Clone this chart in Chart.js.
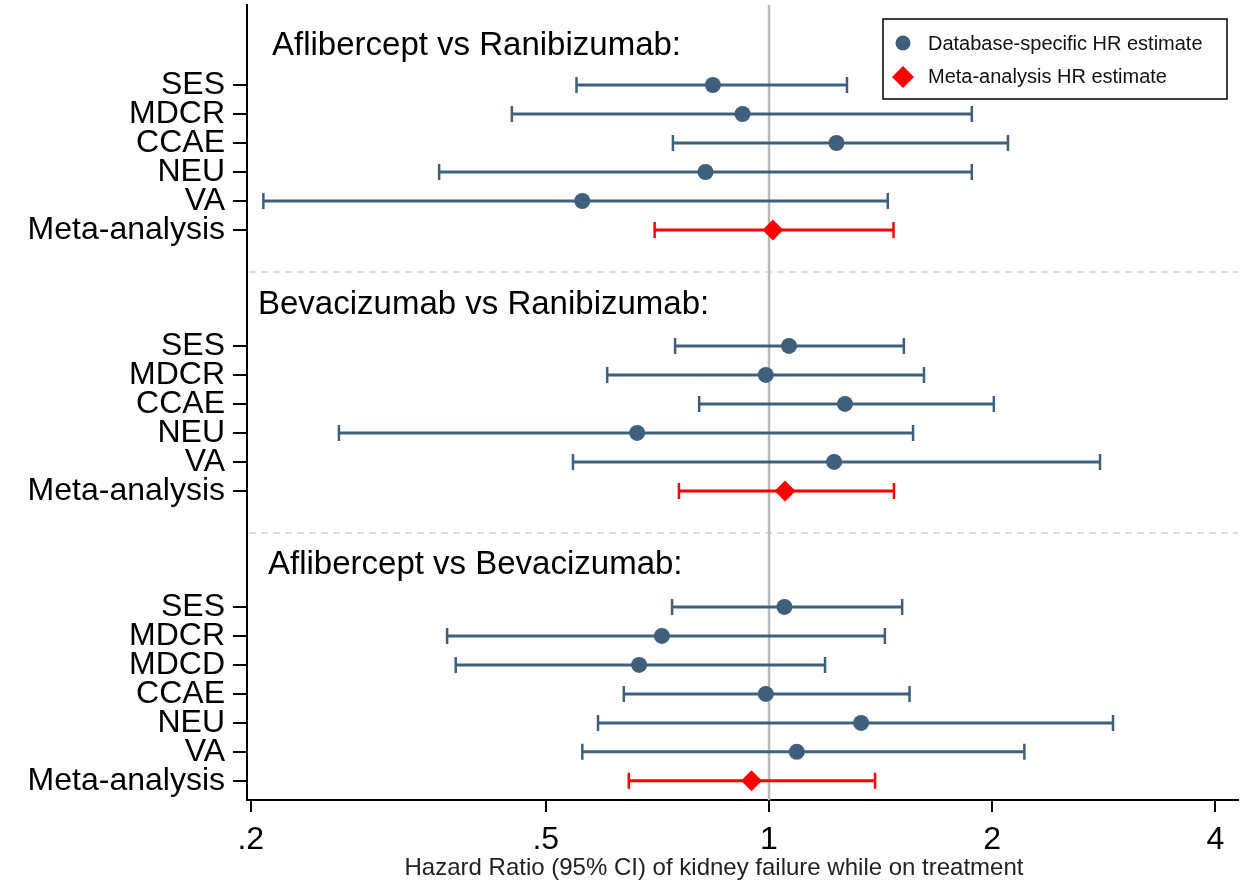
<!DOCTYPE html>
<html>
<head>
<meta charset="utf-8">
<script src="https://cdn.jsdelivr.net/npm/chart.js@4.4.1/dist/chart.umd.min.js"></script>
<style>
  html, body { margin: 0; padding: 0; background: #fff; }
  #wrap { width: 1248px; height: 883px; }
</style>
</head>
<body>
<div id="wrap"><canvas id="myChart" width="1248" height="883"></canvas></div>
<script>
// comparison headers and where they sit on the row axis
var groupTitles = ["Aflibercept vs Ranibizumab:", "Bevacizumab vs Ranibizumab:", "Aflibercept vs Bevacizumab:"];
var groupTitlePos = [-1.35, 7.6, 16.55];
var separatorPos = [6.45, 15.45];

// one entry per row of the forest plot
var rowLabels = ["SES", "MDCR", "CCAE", "NEU", "VA", "Meta-analysis",
  "SES", "MDCR", "CCAE", "NEU", "VA", "Meta-analysis",
  "SES", "MDCR", "MDCD", "CCAE", "NEU", "VA", "Meta-analysis"];
var rowPos = [0, 1, 2, 3, 4, 5, 9, 10, 11, 12, 13, 14, 18, 19, 20, 21, 22, 23, 24];
var hr = [0.840, 0.921, 1.233, 0.821, 0.560, 1.012,
  1.064, 0.990, 1.266, 0.664, 1.224, 1.051,
  1.049, 0.717, 0.668, 0.990, 1.331, 1.090, 0.947];
var lower = [0.550, 0.450, 0.742, 0.359, 0.208, 0.701,
  0.747, 0.605, 0.805, 0.263, 0.544, 0.756,
  0.740, 0.368, 0.378, 0.637, 0.588, 0.560, 0.647];
var upper = [1.274, 1.877, 2.10, 1.877, 1.446, 1.472,
  1.520, 1.618, 2.01, 1.564, 2.795, 1.474,
  1.512, 1.433, 1.190, 1.547, 2.91, 2.21, 1.390];

var xTicks = [0.2, 0.5, 1, 2, 4];
var xTickLabels = [".2", ".5", "1", "2", "4"];
var xTitle = "Hazard Ratio (95% CI) of kidney failure while on treatment";

var BLUE = "#3f607d";
var RED = "#ff0000";
var FONT = "'Liberation Sans', Arial, sans-serif";
var headerIndent = [25, 11, 21];

var dbPoints = [], metaPoints = [];
for (let i = 0; i < rowLabels.length; i++) {
  if (rowLabels[i] === "Meta-analysis") metaPoints.push({ x: hr[i], y: rowPos[i] });
  else dbPoints.push({ x: hr[i], y: rowPos[i] });
}

var forestPlugin = {
  id: "forest",
  beforeDatasetsDraw: function (chart) {
    var ctx = chart.ctx, area = chart.chartArea;
    var xs = chart.scales.x, ys = chart.scales.y;
    ctx.save();
    // dashed separators between comparisons
    ctx.strokeStyle = "#dcdcdc";
    ctx.lineWidth = 2;
    ctx.setLineDash([7, 5]);
    separatorPos.forEach(function (p) {
      var py = ys.getPixelForValue(p);
      ctx.beginPath();
      ctx.moveTo(area.left + 2, py);
      ctx.lineTo(area.right, py);
      ctx.stroke();
    });
    ctx.setLineDash([]);
    // reference line at HR = 1
    var x1 = xs.getPixelForValue(1);
    ctx.strokeStyle = "#bababa";
    ctx.lineWidth = 2.5;
    ctx.beginPath();
    ctx.moveTo(x1, area.top);
    ctx.lineTo(x1, area.bottom);
    ctx.stroke();
    // confidence intervals
    for (let i = 0; i < rowLabels.length; i++) {
      var col = rowLabels[i] === "Meta-analysis" ? RED : BLUE;
      var py = ys.getPixelForValue(rowPos[i]);
      var xl = xs.getPixelForValue(lower[i]);
      var xu = xs.getPixelForValue(upper[i]);
      ctx.strokeStyle = col;
      ctx.lineWidth = 3;
      ctx.beginPath();
      ctx.moveTo(xl, py);
      ctx.lineTo(xu, py);
      ctx.stroke();
      ctx.lineWidth = 2.5;
      ctx.beginPath();
      ctx.moveTo(xl, py - 8);
      ctx.lineTo(xl, py + 8);
      ctx.moveTo(xu, py - 8);
      ctx.lineTo(xu, py + 8);
      ctx.stroke();
    }
    // group headers
    ctx.fillStyle = "#000";
    ctx.font = "33px " + FONT;
    ctx.textAlign = "left";
    ctx.textBaseline = "middle";
    groupTitles.forEach(function (t, k) {
      ctx.fillText(t, area.left + headerIndent[k], ys.getPixelForValue(groupTitlePos[k]));
    });
    ctx.restore();
  },
  afterDraw: function (chart) {
    var ctx = chart.ctx, area = chart.chartArea;
    ctx.save();
    // x axis title
    ctx.fillStyle = "#222";
    ctx.font = "24px " + FONT;
    ctx.textAlign = "center";
    ctx.textBaseline = "middle";
    ctx.fillText(xTitle, area.left + 467, chart.height - 15);
    // legend box
    var w = 344, h = 80;
    var bx = area.right - 11 - w, by = area.top + 14;
    ctx.textAlign = "left";
    ctx.fillStyle = "#fff";
    ctx.fillRect(bx, by, w, h);
    ctx.strokeStyle = "#000";
    ctx.lineWidth = 1.5;
    ctx.strokeRect(bx, by, w, h);
    ctx.fillStyle = BLUE;
    ctx.beginPath();
    ctx.arc(bx + 20, by + 24, 7.5, 0, Math.PI * 2);
    ctx.fill();
    ctx.fillStyle = RED;
    ctx.beginPath();
    ctx.moveTo(bx + 20, by + 47);
    ctx.lineTo(bx + 31, by + 58);
    ctx.lineTo(bx + 20, by + 69);
    ctx.lineTo(bx + 9, by + 58);
    ctx.closePath();
    ctx.fill();
    ctx.fillStyle = "#111";
    ctx.font = "20px " + FONT;
    ctx.fillText("Database-specific HR estimate", bx + 45, by + 25);
    ctx.fillText("Meta-analysis HR estimate", bx + 45, by + 58);
    ctx.restore();
  }
};

var ctx = document.getElementById("myChart").getContext("2d");
var chart = new Chart(ctx, {
  type: "scatter",
  data: {
    datasets: [
      {
        label: "Database-specific HR estimate",
        data: dbPoints,
        backgroundColor: BLUE,
        borderColor: BLUE,
        pointStyle: "circle",
        pointRadius: 8,
        borderWidth: 0,
      },
      {
        label: "Meta-analysis HR estimate",
        data: metaPoints,
        backgroundColor: RED,
        borderColor: RED,
        pointStyle: "rectRot",
        pointRadius: 10.5,
        borderWidth: 0,
      },
    ],
  },
  options: {
    responsive: false,
    animation: false,
    layout: { autoPadding: false, padding: { top: 5, right: 10, left: 0, bottom: 0 } },
    plugins: { legend: { display: false }, tooltip: { enabled: false } },
    scales: {
      x: {
        type: "logarithmic",
        min: 0.1977,
        max: 4.29,
        afterBuildTicks: function (scale) {
          scale.ticks = xTicks.map(function (v) { return { value: v }; });
        },
        afterFit: function (scale) {
          scale.height = 83;
          scale.paddingLeft = 0;
          scale.paddingRight = 0;
        },
        ticks: {
          callback: function (value, index) { return xTickLabels[index]; },
          color: "#000",
          font: { family: FONT, size: 32 },
          padding: 9,
          maxRotation: 0,
          autoSkip: false,
        },
        grid: { drawOnChartArea: false, drawTicks: true, tickLength: 12, color: "#000", lineWidth: 2 },
        border: { display: true, color: "#000", width: 2 },
      },
      y: {
        type: "linear",
        reverse: true,
        min: -2.76,
        max: 24.66,
        afterBuildTicks: function (scale) {
          scale.ticks = rowPos.map(function (v) { return { value: v }; });
        },
        afterFit: function (scale) {
          scale.width = 247;
          scale.paddingTop = 0;
          scale.paddingBottom = 0;
        },
        ticks: {
          callback: function (value, index) { return rowLabels[index]; },
          color: "#000",
          font: { family: FONT, size: 32 },
          padding: 8,
          autoSkip: false,
        },
        grid: { drawOnChartArea: false, drawTicks: true, tickLength: 14, color: "#000", lineWidth: 2 },
        border: { display: true, color: "#000", width: 2 },
      },
    },
  },
  plugins: [forestPlugin],
});
</script>
</body>
</html>
